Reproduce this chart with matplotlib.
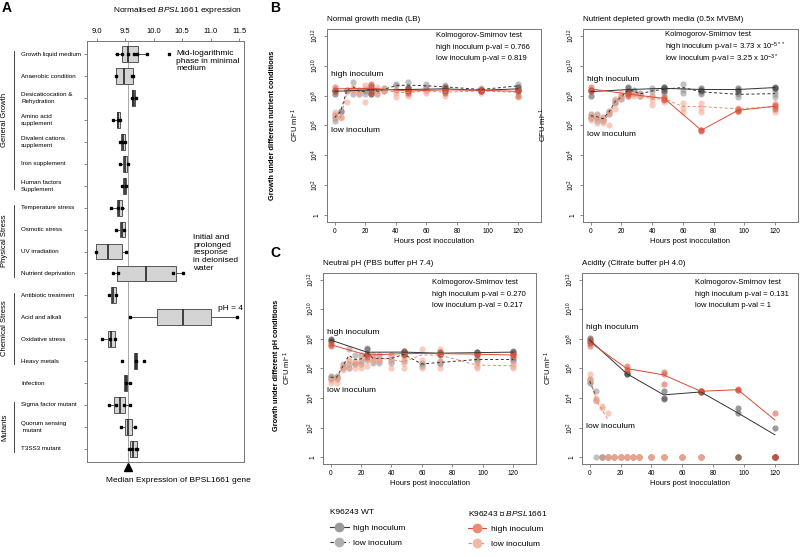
import numpy as np
import matplotlib
matplotlib.use('Agg')
import matplotlib.pyplot as plt
from matplotlib.lines import Line2D

plt.rcParams['font.family'] = ['Liberation Sans', 'DejaVu Sans']
plt.rcParams['mathtext.fontset'] = 'custom'
plt.rcParams['mathtext.rm'] = 'Liberation Sans'
plt.rcParams['mathtext.it'] = 'Liberation Sans:italic'

nd = np.nan

# ---------------- panel A data ----------------
a_labels = ['Growth liquid medium', 'Anaerobic condition', 'Desicaticocation &\nRehydration',
            'Amino acid\nsupplement', 'Divalent cations\nsupplement', 'Iron supplement',
            'Human factors\nSupplement', 'Temperature stress', 'Osmotic stress', 'UV irradiation',
            'Nutrient deprivation', 'Antibiotic treatment', 'Acid and alkali', 'Oxidative stress',
            'Heavy metals', 'Infection', 'Sigma factor mutant', 'Quorum sensing\n mutant', 'T3SS3 mutant']
a_q1 = [9.44, 9.33, 9.61, 9.35, 9.43, 9.46, 9.46, 9.36, 9.41, 8.98, 9.35, 9.25, 10.05, 9.19, 9.66, 9.48, 9.31, 9.49, 9.58]
a_med = [9.54, 9.48, 9.64, 9.37, 9.46, 9.50, 9.49, 9.39, 9.45, 9.20, 9.86, 9.29, 10.52, 9.25, 9.68, 9.51, 9.40, 9.54, 9.64]
a_q3 = [9.72, 9.64, 9.67, 9.40, 9.49, 9.53, 9.51, 9.44, 9.50, 9.45, 10.39, 9.34, 11.00, 9.32, 9.71, 9.53, 9.50, 9.61, 9.70]
a_lo = [9.32, 9.33, 9.60, 9.28, 9.40, 9.41, 9.45, 9.25, 9.34, 8.98, 9.28, 9.21, 9.58, 9.10, 9.66, 9.48, 9.21, 9.42, 9.56]
a_hi = [9.89, 9.64, 9.69, 9.41, 9.51, 9.56, 9.52, 9.48, 9.50, 9.53, 10.52, 9.35, 11.46, 9.33, 9.71, 9.55, 9.59, 9.67, 9.71]
a_points = [[9.35, 9.45, 9.55, 9.65, 9.71, 9.88, 10.27], [9.33, 9.62, 9.64], [9.61, 9.68],
            [9.28, 9.38, 9.40], [9.41, 9.45, 9.50], [9.41, 9.55], [9.45, 9.51],
            [9.25, 9.38, 9.45], [9.34, 9.48], [8.98, 9.52], [9.28, 9.38, 10.33, 10.52],
            [9.21, 9.33], [9.58, 11.46], [9.10, 9.24, 9.32], [9.44, 9.69, 9.83],
            [9.51, 9.58], [9.21, 9.33, 9.47, 9.58], [9.43, 9.67], [9.56, 9.62, 9.68, 9.71]]
a_median_all = 9.54
a_groups = ['General Growth', 'Physical Stress', 'Chemical Stress', 'Mutants']
a_group_rows = [(0, 6), (7, 10), (11, 14), (16, 18)]

# ---------------- panels B, C data (log10 CFU/ml, 3 replicates, nan = not detected) ----------------
t_high = [0, 24, 48, 72, 96, 120]
t_low = [0, 4, 8, 12, 16, 20, 24, 28, 32, 40, 48, 60, 72, 96, 120]

lb_wt_high = [[8.4, 8.1, 8.3], [8.6, 8.3, 8.1], [8.5, 8.4, 8.3], [8.6, 8.4, 8.3], [8.3, 8.4, 8.35], [8.6, 8.4, 8.3]]
lb_mut_high = [[8.6, 8.3, 8.4], [8.7, 8.4, 8.2], [8.4, 8.2, 8.3], [8.4, 8.5, 8.2], [8.4, 8.3, 8.35], [8.35, 8.4, 8.0]]
lb_wt_low = [[6.3, 6.5, 6.7], [6.9, 7.0, 6.95], [8.3, 8.4, 8.35], [8.9, 8.4, 8.1], [8.4, 8.3, 8.1],
             [8.3, 8.4, 8.1], [8.8, 8.1, 8.4], [8.1, 8.3, 8.4], [8.4, 8.3, 8.5], [8.8, 8.7, 8.4],
             [8.9, 8.6, 8.5], [8.8, 8.5, 8.6], [8.6, 8.7, 8.4], [8.4, 8.3, 8.5], [8.8, 8.6, 8.5]]
lb_mut_low = [[6.6, 6.8, 6.9], [6.5, 6.55, 6.6], [7.6, 8.3, 8.4], [8.4, 8.6, 8.3], [8.1, 8.4, 8.2],
              [7.6, 8.5, 8.7], [8.8, 8.6, 8.2], [8.6, 8.3, 8.1], [8.4, 8.3, 8.5], [7.9, 8.2, 8.4],
              [8.0, 8.1, 8.4], [8.4, 8.3, 8.2], [8.0, 8.2, 8.4], [8.3, 8.4, 8.2], [7.9, 8.2, 8.4]]

mv_wt_high = [[8.4, 8.0, 8.3], [8.6, 8.3, 8.2], [8.6, 8.5, 8.3], [8.5, 8.4, 8.3], [8.5, 8.3, 8.4], [8.6, 8.5, 8.5]]
mv_mut_high = [[8.6, 8.4, 8.3], [8.2, 8.1, 8.0], [7.9, 7.8, 7.7], [5.7, 5.7, 5.65], [7.0, 7.1, 6.95], [7.3, 7.4, 7.1]]
mv_wt_low = [[6.8, 6.6, 6.5], [6.8, 6.5, 6.3], [6.6, 6.3, 6.4], [7.0, 6.9, 6.8], [7.5, 7.7, 7.6],
             [8.0, 7.8, 7.9], [8.5, 8.3, 8.2], [8.4, 8.2, 8.3], [8.1, 8.0, 8.2], [8.5, 8.3, 8.0],
             [8.6, 8.4, 8.2], [8.8, 8.4, 8.2], [8.4, 8.2, 8.1], [8.2, 7.9, 8.1], [8.3, 7.9, 8.1]]
mv_mut_low = [[6.7, 6.5, 6.4], [6.7, 6.2, 6.5], [6.4, 6.2, 6.5], [6.0, 6.9, 6.8], [7.1, 7.5, 7.8],
              [8.2, 7.8, 8.0], [8.0, 8.1, 8.2], [8.0, 8.1, 8.2], [8.0, 8.0, 8.05], [7.4, 7.7, 8.0],
              [7.6, 7.8, 7.9], [7.5, 7.2, 6.9], [7.5, 7.2, 6.9], [7.1, 7.0, 7.2], [7.5, 7.2, 6.9]]

ph7_wt_high = [[8.0, 7.85, 7.9], [7.3, 6.9, 7.0], [7.2, 7.1, 7.0], [7.1, 7.0, 7.0], [7.0, 7.1, 7.1], [7.2, 7.1, 7.0]]
ph7_mut_high = [[7.7, 7.5, 7.6], [6.9, 7.0, 6.8], [7.0, 7.1, 6.9], [7.1, 7.0, 6.9], [7.0, 6.9, 7.0], [6.9, 6.8, 7.0]]
ph7_wt_low = [[5.3, 5.4, 5.5], [5.3, 5.5, 5.4], [6.1, 6.0, 6.3], [7.3, 6.3, 6.0], [6.9, 6.3, 6.4],
              [6.9, 6.5, 6.3], [7.4, 6.8, 6.6], [6.9, 6.4, 6.6], [6.9, 6.4, 6.6], [6.9, 6.6, 6.4],
              [7.2, 6.9, 6.5], [6.3, 6.4, 6.2], [6.3, 6.5, 6.4], [6.6, 6.7, 6.5], [6.6, 6.5, 6.7]]
ph7_mut_low = [[5.0, 5.2, 5.3], [5.0, 5.3, 5.4], [5.9, 6.1, 6.2], [6.0, 6.5, 6.6], [6.0, 6.3, 6.5],
               [6.0, 6.3, 6.7], [6.6, 6.2, 7.0], [6.6, 6.9, 6.5], [6.5, 6.9, 6.6], [6.0, 6.5, 6.9],
               [6.0, 6.7, 6.4], [7.3, 6.6, 6.0], [7.3, 6.0, 6.5], [6.2, 6.4, 6.0], [6.2, 6.0, 6.3]]

ph4_wt_high = [[8.07, 7.9, 7.75], [5.7, 5.6, 5.65], [4.48, 3.97, 4.0], [4.45, 4.4, 4.4], [3.3, 3.0, nd], [2.0, nd, nd]]
ph4_mut_high = [[7.95, 7.8, 7.5], [6.14, 5.95, 5.85], [5.75, 5.65, 4.98], [4.48, 4.5, 4.4], [4.6, 4.55, 4.55], [3.0, nd, nd]]
ph4_wt_low = [[5.0, 5.1, 5.3], [4.5, 3.9, nd], [nd, nd, nd], [nd, nd, nd], [nd, nd, nd],
              [nd, nd, nd], [nd, nd, nd], [nd, nd, nd], [nd, nd, nd], [nd, nd, nd],
              [nd, nd, nd], [nd, nd, nd], [nd, nd, nd], [nd, nd, nd], [nd, nd, nd]]
ph4_mut_low = [[5.65, 5.3, 5.2], [4.0, 3.8, 3.9], [3.45, 3.3, nd], [3.0, nd, nd], [nd, nd, nd],
               [nd, nd, nd], [nd, nd, nd], [nd, nd, nd], [nd, nd, nd], [nd, nd, nd],
               [nd, nd, nd], [nd, nd, nd], [nd, nd, nd], [nd, nd, nd], [nd, nd, nd]]

ks_text = [['Kolmogorov-Smirnov test', 'high inoculum p-val = 0.766', 'low inoculum p-val = 0.819'],
           ['Kolmogorov-Smirnov test', 'high inoculum p-val = 3.73 x 10$^{-5**}$', 'low inoculum p-val = 3.25 x 10$^{-3*}$'],
           ['Kolmogorov-Smirnov test', 'high inoculum p-val = 0.270', 'low inoculum p-val = 0.217'],
           ['Kolmogorov-Smirnov test', 'high inoculum p-val = 0.131', 'low inoculum p-val = 1']]
titles = ['Normal growth media (LB)', 'Nutrient depleted growth media (0.5x MVBM)',
          'Neutral pH (PBS buffer pH 7.4)', 'Acidity (Citrate buffer pH 4.0)']

# colours
c_wt_high, c_wt_low = '#4a4a4a', '#8e8e8e'
c_mut_high, c_mut_low = '#d9553f', '#f3a48c'
l_wt, l_mut_high, l_mut_low = '#333333', '#e04a35', '#e88a72'
frame = '#777777'

W, H = 800, 557
fig = plt.figure(figsize=(8, 5.57), dpi=100)


def rect(l, t, r, b):
    return [l / W, 1 - b / H, (r - l) / W, (b - t) / H]


# ================= panel A =================
axA = fig.add_axes(rect(87, 41, 244, 462))
rows = np.arange(len(a_labels))
stats = []
for i in rows:
    stats.append(dict(q1=a_q1[i], med=a_med[i], q3=a_q3[i], whislo=a_lo[i], whishi=a_hi[i], fliers=[]))
bp = axA.bxp(stats, positions=rows, widths=0.72, orientation='horizontal', patch_artist=True,
             showcaps=False, showfliers=False,
             boxprops=dict(facecolor='#d4d4d4', edgecolor='#555555', lw=0.7),
             whiskerprops=dict(color='#555555', lw=0.7),
             medianprops=dict(color='#333333', lw=1.3))
for i in [2, 14, 15]:
    bp['boxes'][i].set_facecolor('#555555')
axA.axvline(a_median_all, color='#999999', lw=0.6, zorder=0)
for i, pts in enumerate(a_points):
    axA.plot(pts, [i] * len(pts), 's', ms=2, color='k', zorder=4)

axA.set_xlim(8.83, 11.58)
axA.set_ylim(18.6, -0.6)
axA.xaxis.tick_top()
axA.set_xticks([9.0, 9.5, 10.0, 10.5, 11.0, 11.5])
axA.set_xticklabels(['9.0', '9.5', '10.0', '10.5', '11.0', '11.5'])
axA.tick_params(axis='x', labelsize=5.5, length=2.5, width=0.6, color=frame, pad=2)
axA.set_yticks(rows)
axA.set_yticklabels([])
axA.tick_params(axis='y', length=2, width=0.6, color=frame)
for s in axA.spines.values():
    s.set_color(frame)
    s.set_linewidth(0.7)
for i, lab in enumerate(a_labels):
    axA.text(-0.42, i, lab, transform=axA.get_yaxis_transform(), fontsize=4.5,
             ha='left', va='center', linespacing=1.5)

fig.text(178 / W, 1 - 10 / H, r'Normalised $\it{BPSL1661}$ expression', ha='center', va='center', fontsize=6)
axA.text(10.39, -0.2, 'Mid-logarithmic\nphase in minimal\nmedium', fontsize=6, va='top', ha='left', linespacing=1.15)
axA.text(10.69, 8.2, 'Initial and\nprolonged\nresponse\nin deionised\nwater', fontsize=6, va='top', ha='left', linespacing=1.15)
axA.text(11.13, 11.62, 'pH = 4', fontsize=6, va='center', ha='left')
axA.plot([a_median_all], [18.83], marker='^', ms=6, color='k', clip_on=False)
fig.text(178 / W, 1 - 480 / H, 'Median Expression of BPSL1661 gene', ha='center', va='center', fontsize=6)

for name, (r0, r1) in zip(a_groups, a_group_rows):
    y0 = 41 + (r0 + 0.6) * 21.94 - 3
    y1 = 41 + (r1 + 0.6) * 21.94 + 3
    fig.add_artist(Line2D([14 / W, 14 / W], [1 - y0 / H, 1 - y1 / H], color='#222222', lw=0.6))
    fig.text(5 / W, 1 - (y0 + y1) / 2 / H, name, rotation=90, ha='center', va='center', fontsize=5.5)

# ================= panels B, C =================


def draw_series(ax, times, reps, pcolor, lcolor, ls):
    reps = np.array(reps, dtype=float)
    for j in range(reps.shape[1]):
        y = np.where(np.isnan(reps[:, j]), 1.0, 10 ** reps[:, j])
        ax.scatter(times, y, s=20, color=pcolor, alpha=0.55, lw=0, zorder=2)
    raw = np.where(np.isnan(reps), 0.0, 10 ** reps)
    m = raw.mean(axis=1)
    m = np.where(m > 0, m, np.nan)
    ax.plot(times, m, color=lcolor, ls=ls, lw=0.7, zorder=3)


panels = [
    (rect(327, 29, 541, 222), lb_wt_high, lb_wt_low, lb_mut_high, lb_mut_low, -0.12, 0.51, 0.965, 11.5, 9.4, 5.65),
    (rect(583, 29, 798, 222), mv_wt_high, mv_wt_low, mv_mut_high, mv_mut_low, -0.16, 0.38, 0.97, 12.5, 9.07, 5.4),
    (rect(323, 273, 536, 464), ph7_wt_high, ph7_wt_low, ph7_mut_high, ph7_mut_low, -0.14, 0.51, 0.95, 11.5, 8.45, 4.5),
    (rect(582, 273, 798, 464), ph4_wt_high, ph4_wt_low, ph4_mut_high, ph4_mut_low, -0.13, 0.525, 0.95, 11.5, 8.75, 2.05),
]
dash = (0, (3, 2.5))
for k, (r, wh, wl, mh, ml, ylab_x, ks_x, ks_y, ks_step, hi_y, lo_y) in enumerate(panels):
    ax = fig.add_axes(r)
    draw_series(ax, t_low, wl, c_wt_low, l_wt, dash)
    draw_series(ax, t_low, ml, c_mut_low, l_mut_low, dash)
    draw_series(ax, t_high, wh, c_wt_high, l_wt, '-')
    draw_series(ax, t_high, mh, c_mut_high, l_mut_high, '-')
    ax.set_yscale('log')
    ax.set_ylim(10 ** -0.45, 10 ** 12.45)
    ax.set_xlim(-5, 135)
    ax.set_yticks([10.0 ** e for e in range(0, 13, 2)])
    ax.set_yticklabels(['1', '$10^2$', '$10^4$', '$10^6$', '$10^8$', '$10^{10}$', '$10^{12}$'],
                       rotation=90, va='center')
    ax.yaxis.set_minor_locator(matplotlib.ticker.NullLocator())
    ax.set_xticks([0, 20, 40, 60, 80, 100, 120])
    ax.tick_params(labelsize=4.8, length=2.5, width=0.6, color=frame, pad=2)
    for s in ax.spines.values():
        s.set_color(frame)
        s.set_linewidth(0.7)
    ax.set_xlabel('Hours post inocculation', fontsize=5.5, labelpad=2)
    ax.set_ylabel('CFU ml$^{-1}$', fontsize=5.5)
    ax.yaxis.set_label_coords(ylab_x, 0.5)
    line_step = ks_step / (r[3] * H)
    for n, line in enumerate(ks_text[k]):
        ax.text(ks_x, ks_y - n * line_step, line, transform=ax.transAxes, fontsize=5.5,
                va='center', ha='left')
    ax.text(-2.5, 10 ** hi_y, 'high inoculum', fontsize=6, va='center', ha='left')
    ax.text(-2.5, 10 ** lo_y, 'low inoculum', fontsize=6, va='center', ha='left')
    ax.set_title(titles[k], fontsize=5.8, loc='left', pad=6)

fig.text(272 / W, 1 - 125 / H, 'Growth under different nutrient conditions', rotation=90,
         ha='center', va='center', fontsize=5.3, fontweight='bold')
fig.text(276 / W, 1 - 365 / H, 'Growth under different pH conditions', rotation=90,
         ha='center', va='center', fontsize=5.3, fontweight='bold')

fig.text(2 / W, 1 - 8 / H, 'A', fontsize=10, fontweight='bold', va='center')
fig.text(270 / W, 1 - 8 / H, 'B', fontsize=10, fontweight='bold', va='center')
fig.text(270 / W, 1 - 253 / H, 'C', fontsize=10, fontweight='bold', va='center')

# legends
wt_handles = [Line2D([], [], color=l_wt, lw=0.8, ls='-', marker='o', ms=7, mfc='#9a9a9a', mec='none'),
              Line2D([], [], color=l_wt, lw=0.8, ls=dash, marker='o', ms=7, mfc='#b0b0b0', mec='none')]
mut_handles = [Line2D([], [], color=l_mut_high, lw=0.8, ls='-', marker='o', ms=7, mfc='#ee8a74', mec='none'),
               Line2D([], [], color=l_mut_low, lw=0.8, ls=dash, marker='o', ms=7, mfc='#f4b7a4', mec='none')]
leg1 = fig.legend(wt_handles, ['high inoculum', 'low inoculum'], title='K96243 WT', loc='upper left',
                  bbox_to_anchor=(326 / W, 1 - 505 / H), frameon=False, fontsize=6, title_fontsize=6,
                  labelspacing=0.9, handlelength=2.2, handletextpad=0.5, borderpad=0, alignment='left')
leg2 = fig.legend(mut_handles, ['high inoculum', 'low inoculum'], title=r'K96243 △ $\it{BPSL1661}$',
                  loc='upper left', bbox_to_anchor=(464 / W, 1 - 505 / H), frameon=False, fontsize=6,
                  title_fontsize=6, labelspacing=0.9, handlelength=2.2, handletextpad=0.5, borderpad=0,
                  alignment='left')

fig.savefig('out.png', dpi=100)
